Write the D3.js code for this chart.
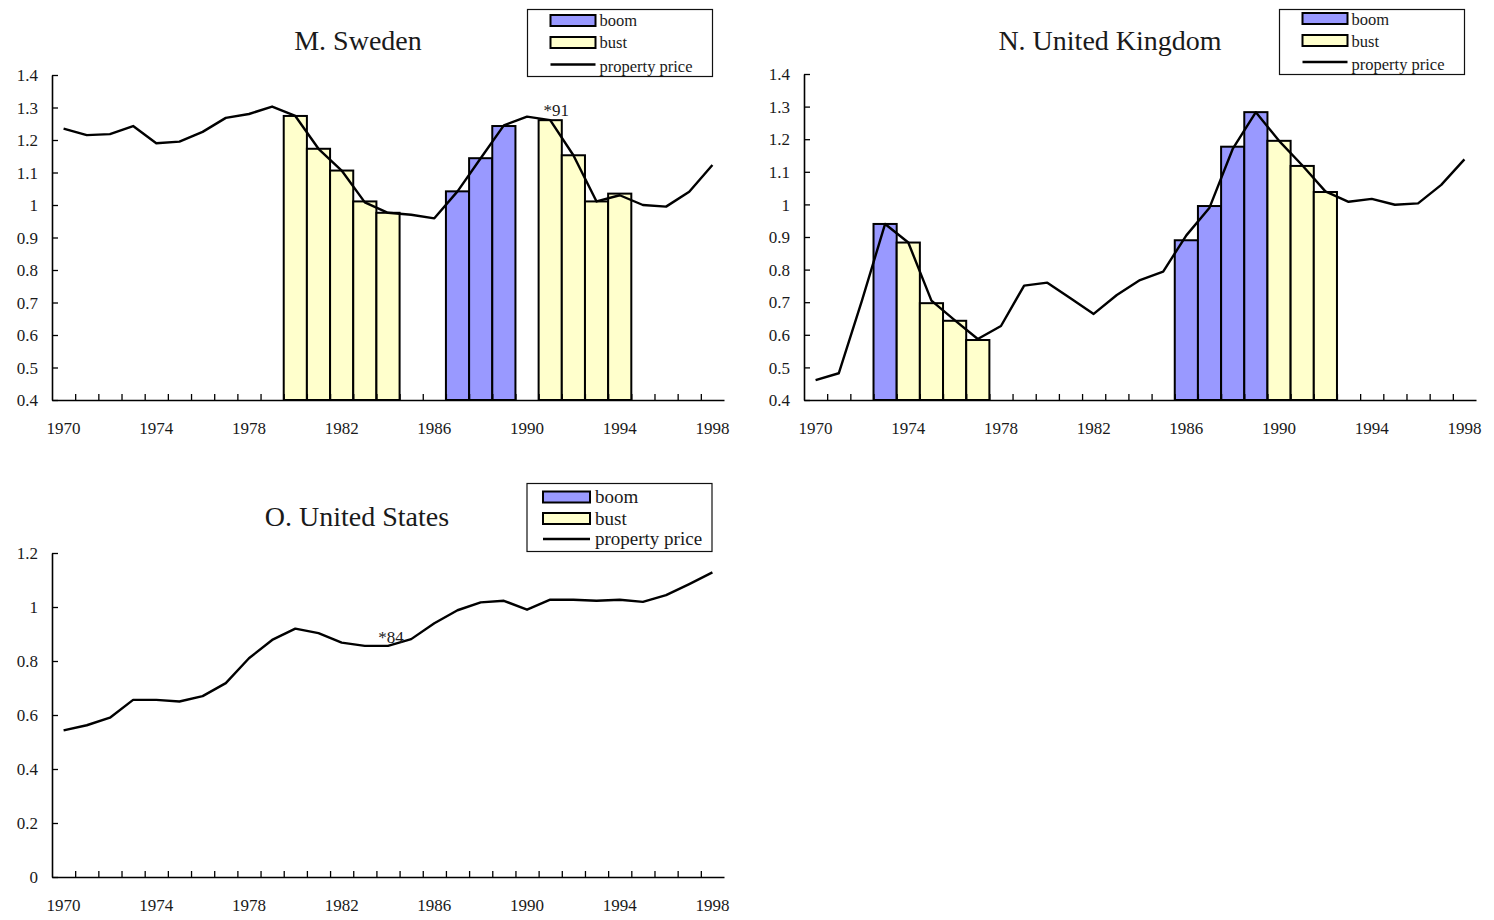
<!DOCTYPE html>
<html>
<head>
<meta charset="utf-8">
<script src="https://cdn.jsdelivr.net/npm/d3@7"></script>
<style>
  html, body { margin: 0; padding: 0; background: #fff; }
  svg { display: block; }
  text { font-family: "Liberation Serif", "Times New Roman", serif; fill: #1a1a1a; }
</style>
</head>
<body>
<svg id="chart" width="1494" height="920"></svg>
<script>
// Categories: one per year
const years = [1970, 1971, 1972, 1973, 1974, 1975, 1976, 1977, 1978, 1979,
               1980, 1981, 1982, 1983, 1984, 1985, 1986, 1987, 1988, 1989,
               1990, 1991, 1992, 1993, 1994, 1995, 1996, 1997, 1998];
const yearLabels = [1970, 1974, 1978, 1982, 1986, 1990, 1994, 1998];

// Property price index, one value per year
const swedenPrice = [1.235, 1.215, 1.218, 1.243, 1.19, 1.195, 1.225, 1.268, 1.28, 1.303,
                     1.274, 1.173, 1.106, 1.008, 0.976, 0.970, 0.959, 1.042, 1.144, 1.245,
                     1.272, 1.261, 1.153, 1.011, 1.030, 1.0, 0.995, 1.041, 1.123];
const ukPrice = [0.461, 0.482, 0.705, 0.94, 0.883, 0.705, 0.645, 0.587, 0.627, 0.751,
                 0.760, 0.712, 0.664, 0.722, 0.768, 0.794, 0.905, 0.99, 1.17, 1.283,
                 1.195, 1.12, 1.04, 1.008, 1.017, 0.999, 1.003, 1.06, 1.138];
const usPrice = [0.543, 0.562, 0.59, 0.656, 0.656, 0.65, 0.67, 0.718, 0.81, 0.878,
                 0.92, 0.903, 0.868, 0.856, 0.856, 0.881, 0.94, 0.988, 1.017, 1.023,
                 0.99, 1.027, 1.027, 1.023, 1.027, 1.019, 1.044, 1.085, 1.128];

// Boom and bust episodes: [year, value]
const swedenBoom = [[1987, 1.042], [1988, 1.144], [1989, 1.243]];
const swedenBust = [[1980, 1.274], [1981, 1.173], [1982, 1.106], [1983, 1.011], [1984, 0.976],
                    [1991, 1.261], [1992, 1.153], [1993, 1.011], [1994, 1.035]];
const ukBoom = [[1973, 0.94], [1986, 0.89], [1987, 0.995], [1988, 1.177], [1989, 1.283]];
const ukBust = [[1974, 0.883], [1975, 0.697], [1976, 0.643], [1977, 0.584],
                [1990, 1.195], [1991, 1.118], [1992, 1.038]];
const usBoom = [];
const usBust = [];

// Peak markers
const swedenNote = [1991, "*91"];
const usNote = [1984, "*84"];

// Value axis ticks
const ratioTicks = [0.4, 0.5, 0.6, 0.7, 0.8, 0.9, 1.0, 1.1, 1.2, 1.3, 1.4];
const levelTicks = [0, 0.2, 0.4, 0.6, 0.8, 1.0, 1.2];

const titles = ["M. Sweden", "N. United Kingdom", "O. United States"];
const legendLabels = ["boom", "bust", "property price"];

const BOOM = "#9999ff", BUST = "#ffffcc";

const svg = d3.select("#chart");

const panels = [
  { title: titles[0], left: 52, right: 724, top: 75, bottom: 400, domain: [0.4, 1.4], ticks: ratioTicks,
    price: swedenPrice, boom: swedenBoom, bust: swedenBust, note: swedenNote, noteDx: 6, noteDy: -4,
    titleX: 358, titleY: 50,
    legend: { x: 527.5, y: 9.5, w: 185, h: 67, swX: 23, swW: 45, swH: 11, txX: 72, font: 16.5,
              rows: [11, 33, 55], base: [16, 38, 62.5] } },
  { title: titles[1], left: 804, right: 1476, top: 74, bottom: 400, domain: [0.4, 1.4], ticks: ratioTicks,
    price: ukPrice, boom: ukBoom, bust: ukBust, note: null,
    titleX: 1110, titleY: 50,
    legend: { x: 1279.5, y: 9.5, w: 185, h: 65, swX: 23, swW: 45, swH: 11, txX: 72, font: 16.5,
              rows: [9, 31, 52.5], base: [15, 37, 60] } },
  { title: titles[2], left: 52, right: 724, top: 553, bottom: 877, domain: [0, 1.2], ticks: levelTicks,
    price: usPrice, boom: usBoom, bust: usBust, note: usNote, noteDx: 3, noteDy: -3,
    titleX: 357, titleY: 526,
    legend: { x: 527, y: 483.5, w: 185, h: 68, swX: 16, swW: 47, swH: 11, txX: 68, font: 19,
              rows: [13.5, 35, 55.5], base: [19.5, 41.5, 61.5] } }
];

panels.forEach(p => {
  const g = svg.append("g");

  const x = d3.scaleBand().domain(years).range([p.left, p.right]).padding(0);
  const xEdge = d3.scaleLinear().domain([years[0] - 0.5, years[years.length - 1] + 0.5]).range([p.left, p.right]);
  const y = d3.scaleLinear().domain(p.domain).range([p.bottom, p.top]);
  const cx = yr => x(yr) + x.bandwidth() / 2;

  // Bars for boom and bust years
  const bars = p.boom.map(d => ({ year: d[0], value: d[1], fill: BOOM }))
    .concat(p.bust.map(d => ({ year: d[0], value: d[1], fill: BUST })));
  g.append("g").selectAll("rect").data(bars).join("rect")
    .attr("x", d => x(d.year))
    .attr("y", d => y(d.value))
    .attr("width", x.bandwidth())
    .attr("height", d => y(p.domain[0]) - y(d.value))
    .attr("fill", d => d.fill)
    .attr("stroke", "#000")
    .attr("stroke-width", 2);

  // Property price line
  const line = d3.line().x((d, i) => cx(years[i])).y(d => y(d));
  g.append("path")
    .attr("d", line(p.price))
    .attr("fill", "none")
    .attr("stroke", "#000")
    .attr("stroke-width", 2.4)
    .attr("stroke-linejoin", "round");

  // Value axis, ticks pointing inward
  const yAxis = d3.axisLeft(y).tickValues(p.ticks).tickSizeInner(-6).tickSizeOuter(0).tickPadding(14)
    .tickFormat(d3.format("~g"));
  const ya = g.append("g").attr("transform", `translate(${p.left},0)`).call(yAxis);
  ya.selectAll("text").style("font-size", "17px").attr("dy", "0.34em");

  // Category axis: tick marks between years, labels every fourth year
  const edgeTicks = years.slice(1).map(yr => yr - 0.5);
  const xTickAxis = d3.axisBottom(xEdge).tickValues(edgeTicks).tickSizeInner(-6).tickSizeOuter(0).tickFormat("");
  g.append("g").attr("transform", `translate(0,${p.bottom})`).call(xTickAxis);
  const xLabelAxis = d3.axisBottom(x).tickValues(yearLabels).tickSize(0).tickPadding(22);
  const xa = g.append("g").attr("transform", `translate(0,${p.bottom})`).call(xLabelAxis);
  xa.select(".domain").remove();
  xa.selectAll("text").style("font-size", "17px");

  g.selectAll(".domain").attr("stroke", "#000").attr("stroke-width", 1.6);
  g.selectAll(".tick line").attr("stroke", "#000").attr("stroke-width", 1.3);

  // Title
  g.append("text")
    .attr("x", p.titleX).attr("y", p.titleY)
    .attr("text-anchor", "middle")
    .style("font-size", "28px")
    .text(p.title);

  // Peak marker
  if (p.note) {
    g.append("text")
      .attr("x", cx(p.note[0]) + p.noteDx)
      .attr("y", y(p.price[years.indexOf(p.note[0])]) + p.noteDy)
      .attr("text-anchor", "middle")
      .style("font-size", "17px")
      .text(p.note[1]);
  }

  // Legend
  const L = p.legend;
  const lg = g.append("g").attr("transform", `translate(${L.x},${L.y})`);
  lg.append("rect").attr("width", L.w).attr("height", L.h)
    .attr("fill", "#fff").attr("stroke", "#111").attr("stroke-width", 1.2);
  [BOOM, BUST].forEach((c, i) => {
    lg.append("rect")
      .attr("x", L.swX).attr("y", L.rows[i] - L.swH / 2)
      .attr("width", L.swW).attr("height", L.swH)
      .attr("fill", c).attr("stroke", "#000").attr("stroke-width", 2);
  });
  lg.append("line")
    .attr("x1", L.swX).attr("x2", L.swX + L.swW)
    .attr("y1", L.rows[2]).attr("y2", L.rows[2])
    .attr("stroke", "#000").attr("stroke-width", 2.4);
  legendLabels.forEach((t, i) => {
    lg.append("text")
      .attr("x", L.txX).attr("y", L.base[i])
      .style("font-size", L.font + "px")
      .text(t);
  });
});
</script>
</body>
</html>
